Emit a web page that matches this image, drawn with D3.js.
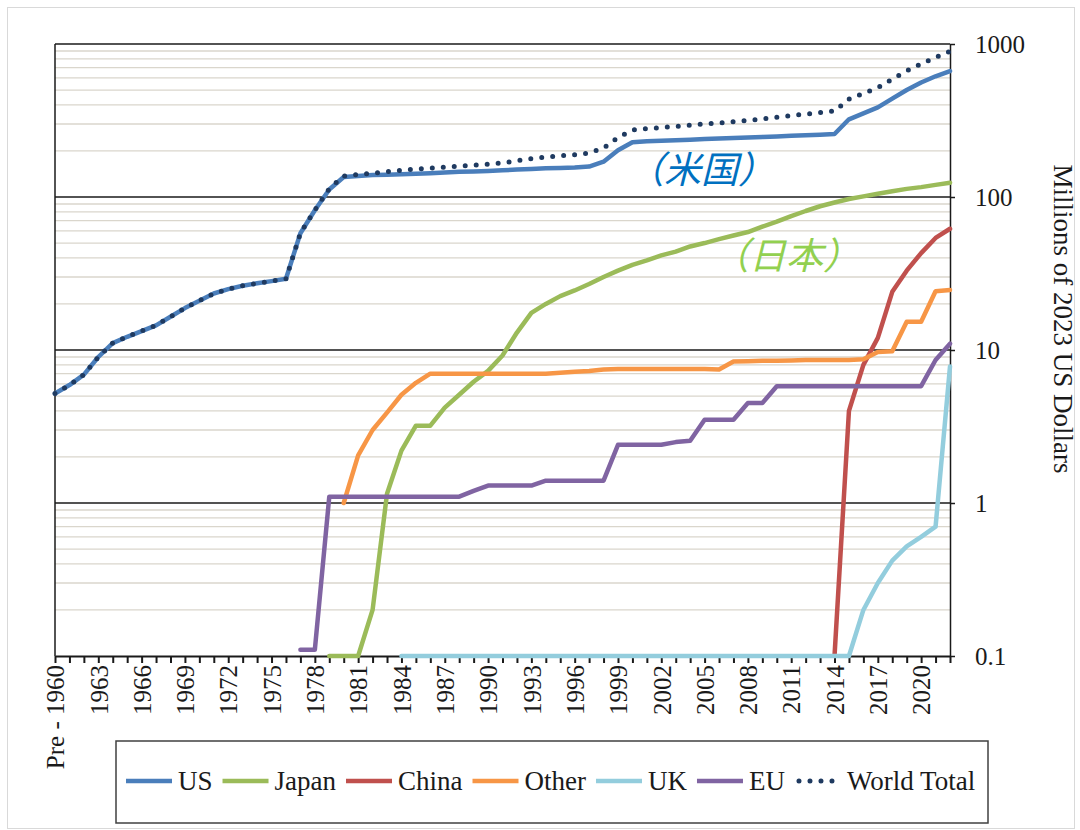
<!DOCTYPE html>
<html>
<head>
<meta charset="utf-8">
<script src="https://cdn.jsdelivr.net/npm/d3@7"></script>
<style>
  html, body { margin: 0; padding: 0; background: #ffffff; }
  svg { display: block; }
  .serif { font-family: "Liberation Serif", "DejaVu Serif", "Times New Roman", serif; }
  .cjk { font-family: "Noto Sans CJK JP", "Noto Sans CJK SC", sans-serif; font-style: italic; }
</style>
</head>
<body>
<svg id="chart" width="1080" height="830"></svg>
<script>
// Categories along the x axis (one per year)
const categories = [
  "Pre - 1960","1961","1962","1963","1964","1965","1966","1967","1968","1969",
  "1970","1971","1972","1973","1974","1975","1976","1977","1978","1979",
  "1980","1981","1982","1983","1984","1985","1986","1987","1988","1989",
  "1990","1991","1992","1993","1994","1995","1996","1997","1998","1999",
  "2000","2001","2002","2003","2004","2005","2006","2007","2008","2009",
  "2010","2011","2012","2013","2014","2015","2016","2017","2018","2019",
  "2020","2021","2022"
];

// Cumulative spending, millions of 2023 US dollars; each series begins at its "from" category
const usFrom = "Pre - 1960";
const usValues = [
  5.2, 5.9, 6.9, 9.0, 11.1, 12.2, 13.3, 14.5, 16.5, 18.8,
  21.0, 23.4, 25.0, 26.3, 27.3, 28.2, 29.2, 58, 82, 112,
  135, 137, 139, 140, 141, 142, 143, 144.5, 146, 147,
  148, 149.5, 151, 152.5, 154, 155, 156, 158, 170, 202,
  228, 231, 233, 235, 237, 239, 241, 243, 245, 247,
  249, 251, 253, 255, 258, 322, 352, 385, 440, 500,
  560, 615, 665
];

const japanFrom = "1979";
const japanValues = [
  0.1, 0.1, 0.1, 0.2, 1.15, 2.2, 3.2, 3.2, 4.2, 5.1,
  6.2, 7.3, 9.2, 13, 17.5, 20, 22.5, 24.5, 27, 30,
  33, 36, 38.5, 41.5, 44, 47.5, 50, 53, 56, 59,
  64, 69, 75, 81, 87, 92, 97, 101, 105, 109,
  113, 116, 120, 124
];

const chinaFrom = "2014";
const chinaValues = [0.1, 4.0, 8.0, 12, 24, 33, 43, 54, 62];

const otherFrom = "1980";
const otherValues = [
  1.0, 2.05, 3.0, 3.9, 5.1, 6.1, 7.0, 7.0, 7.0, 7.0,
  7.0, 7.0, 7.0, 7.0, 7.0, 7.1, 7.2, 7.3, 7.45, 7.5,
  7.5, 7.5, 7.5, 7.5, 7.5, 7.5, 7.45, 8.4, 8.45, 8.5,
  8.5, 8.55, 8.6, 8.6, 8.6, 8.6, 8.7, 9.7, 9.8, 15.3,
  15.3, 24.2, 24.7
];

const ukFrom = "1984";
const ukValues = [
  0.1, 0.1, 0.1, 0.1, 0.1, 0.1, 0.1, 0.1, 0.1, 0.1,
  0.1, 0.1, 0.1, 0.1, 0.1, 0.1, 0.1, 0.1, 0.1, 0.1,
  0.1, 0.1, 0.1, 0.1, 0.1, 0.1, 0.1, 0.1, 0.1, 0.1,
  0.1, 0.1, 0.2, 0.3, 0.42, 0.52, 0.6, 0.7, 7.8
];

const euFrom = "1977";
const euValues = [
  0.11, 0.11, 1.1, 1.1, 1.1, 1.1, 1.1, 1.1, 1.1, 1.1,
  1.1, 1.1, 1.2, 1.3, 1.3, 1.3, 1.3, 1.4, 1.4, 1.4,
  1.4, 1.4, 2.4, 2.4, 2.4, 2.4, 2.5, 2.55, 3.5, 3.5,
  3.5, 4.5, 4.5, 5.8, 5.8, 5.8, 5.8, 5.8, 5.8, 5.8,
  5.8, 5.8, 5.8, 5.8, 8.6, 11
];

const worldFrom = "Pre - 1960";
const worldValues = [
  5.2, 5.9, 6.9, 9.0, 11.1, 12.2, 13.3, 14.5, 16.5, 18.8,
  21.0, 23.4, 25.0, 26.3, 27.3, 28.2, 29.2, 58.1, 82.1, 113.3,
  137.2, 140.3, 143.3, 146.2, 149.5, 152.5, 154.4, 156.9, 159.3, 161.5,
  163.7, 167.1, 172.4, 178.4, 182.5, 186.1, 189.2, 193.8, 209, 245,
  274, 279.5, 284.5, 289.1, 294.7, 300.1, 305, 311, 317, 324,
  332.4, 340.5, 348.5, 356.5, 364.6, 436, 476, 518, 589, 667,
  740, 818, 895
];

// Legend / series names in drawing order
const seriesNames = ["US", "Japan", "China", "Other", "UK", "EU", "World Total"];

// Right-hand axis ticks
const yTickValues = [0.1, 1, 10, 100, 1000];
const yTickLabels = ["0.1", "1", "10", "100", "1000"];

// Minor gridline values (2..9 within each decade)
const minorGrid = [];
[0.1, 1, 10, 100].forEach(base => {
  for (let k = 2; k <= 9; k++) minorGrid.push(base * k);
});

// ---- layout ----
const W = 1080, H = 830;
const plot = { left: 55, right: 950, top: 44, bottom: 656 };

const styles = {
  "US":          { color: "#4a7ebb", dash: null },
  "Japan":       { color: "#9bbb59", dash: null },
  "China":       { color: "#c0504d", dash: null },
  "Other":       { color: "#f79646", dash: null },
  "UK":          { color: "#93cddd", dash: null },
  "EU":          { color: "#8064a2", dash: null },
  "World Total": { color: "#1f3a60", dash: "0 11" }
};

const svg = d3.select("#chart");

// light outer border of the chart area
svg.append("rect")
  .attr("x", 7.5).attr("y", 7.5)
  .attr("width", W - 13).attr("height", H - 9)
  .attr("fill", "#ffffff")
  .attr("stroke", "#d9d9d9")
  .attr("stroke-width", 1);

const x = d3.scalePoint().domain(categories).range([plot.left, plot.right]);
const y = d3.scaleLog().domain([0.1, 1000]).range([plot.bottom, plot.top]);

// minor gridlines
svg.append("g").selectAll("line").data(minorGrid).join("line")
  .attr("x1", plot.left).attr("x2", plot.right)
  .attr("y1", d => y(d)).attr("y2", d => y(d))
  .attr("stroke", "#dad6cc").attr("stroke-width", 1.3);

// major gridlines at each decade
svg.append("g").selectAll("line").data(yTickValues.slice(1)).join("line")
  .attr("x1", plot.left).attr("x2", plot.right)
  .attr("y1", d => y(d)).attr("y2", d => y(d))
  .attr("stroke", "#1a1a1a").attr("stroke-width", 1.3);

// plot left border
svg.append("line")
  .attr("x1", plot.left).attr("x2", plot.left)
  .attr("y1", plot.top).attr("y2", plot.bottom)
  .attr("stroke", "#1a1a1a").attr("stroke-width", 1.5);

// bottom category axis
const xAxis = d3.axisBottom(x)
  .tickSize(7)
  .tickSizeOuter(0)
  .tickFormat((d, i) => (i % 3 === 0 ? d : ""));
const gx = svg.append("g")
  .attr("transform", `translate(0,${plot.bottom})`)
  .call(xAxis)
  .attr("font-family", null);
gx.select(".domain").attr("stroke", "#1a1a1a").attr("stroke-width", 2);
gx.selectAll(".tick line").attr("stroke", "#1a1a1a").attr("stroke-width", 2);
gx.selectAll(".tick text")
  .attr("class", "serif")
  .attr("font-size", 25)
  .attr("fill", "#1a1a1a")
  .attr("text-anchor", "end")
  .attr("transform", "translate(0,9) rotate(-90)")
  .attr("x", 0)
  .attr("y", 0)
  .attr("dy", "0.35em");

// right value axis
const yAxis = d3.axisRight(y)
  .tickValues(yTickValues)
  .tickFormat((d, i) => yTickLabels[i])
  .tickSize(5)
  .tickSizeOuter(0)
  .tickPadding(20);
const gy = svg.append("g")
  .attr("transform", `translate(${plot.right},0)`)
  .call(yAxis)
  .attr("font-family", null);
gy.select(".domain").attr("stroke", "#1a1a1a").attr("stroke-width", 1.5);
gy.selectAll(".tick line").attr("stroke", "#1a1a1a").attr("stroke-width", 1.5);
gy.selectAll(".tick text")
  .attr("class", "serif")
  .attr("font-size", 25)
  .attr("fill", "#1a1a1a");

// right axis title
svg.append("text")
  .attr("class", "serif")
  .attr("transform", `translate(1063,319) rotate(90)`)
  .attr("text-anchor", "middle")
  .attr("dominant-baseline", "central")
  .attr("font-size", 27)
  .attr("fill", "#1a1a1a")
  .text("Millions of 2023 US Dollars");

// series
function points(values, from) {
  const i0 = categories.indexOf(from);
  return values.map((v, i) => ({ c: categories[i0 + i], v }));
}
const seriesData = {
  "US": points(usValues, usFrom),
  "Japan": points(japanValues, japanFrom),
  "China": points(chinaValues, chinaFrom),
  "Other": points(otherValues, otherFrom),
  "UK": points(ukValues, ukFrom),
  "EU": points(euValues, euFrom),
  "World Total": points(worldValues, worldFrom)
};

const line = d3.line()
  .defined(d => d.v != null)
  .x(d => x(d.c))
  .y(d => y(d.v));

const gSeries = svg.append("g");
seriesNames.forEach(name => {
  const st = styles[name];
  const p = gSeries.append("path")
    .datum(seriesData[name])
    .attr("d", line)
    .attr("fill", "none")
    .attr("stroke", st.color)
    .attr("stroke-linejoin", "round")
    .attr("stroke-linecap", "round");
  if (st.dash) {
    p.attr("stroke-width", 5).attr("stroke-dasharray", st.dash);
  } else {
    p.attr("stroke-width", 4.5);
  }
});

// labels on the curves
svg.append("text")
  .attr("class", "cjk")
  .attr("x", 701).attr("y", 183)
  .attr("text-anchor", "middle")
  .attr("font-size", 37)
  .attr("fill", "#0070c0")
  .text("（米国）");

svg.append("text")
  .attr("class", "cjk")
  .attr("x", 786).attr("y", 269)
  .attr("text-anchor", "middle")
  .attr("font-size", 37)
  .attr("fill", "#92d050")
  .text("（日本）");

// legend
const legend = svg.append("g");
legend.append("rect")
  .attr("x", 116).attr("y", 741)
  .attr("width", 872).attr("height", 82)
  .attr("fill", "#ffffff")
  .attr("stroke", "#404040")
  .attr("stroke-width", 1.5);

let lx = 126;
const ly = 781;
seriesNames.forEach(name => {
  const st = styles[name];
  const sw = legend.append("line")
    .attr("x1", lx).attr("x2", lx + 46)
    .attr("y1", ly).attr("y2", ly)
    .attr("stroke", st.color);
  if (st.dash) {
    sw.attr("stroke-width", 5).attr("stroke-linecap", "round")
      .attr("stroke-dasharray", "0 11")
      .attr("x1", lx + 4).attr("x2", lx + 42);
  } else {
    sw.attr("stroke-width", 4.5);
  }
  const t = legend.append("text")
    .attr("class", "serif")
    .attr("x", lx + 52).attr("y", ly + 9)
    .attr("font-size", 27)
    .attr("fill", "#1a1a1a")
    .text(name);
  lx += 52 + t.node().getComputedTextLength() + 10;
});
</script>
</body>
</html>
